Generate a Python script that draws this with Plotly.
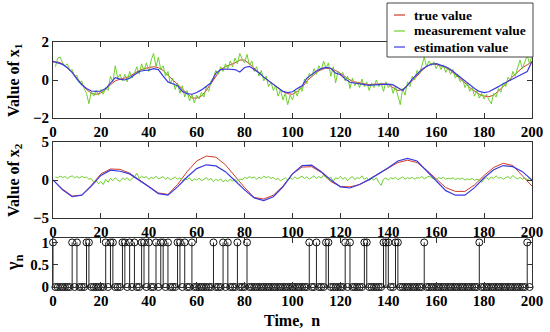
import plotly.graph_objects as go

# ---------------- data ----------------
# x1 true / estimation sampled every 2 steps (n = 0,2,...,200)
n_x1 = list(range(0, 201, 2))
x1_true = [0.95, 0.95, 0.85, 0.65, 0.4, 0.1, -0.2, -0.5, -0.7, -0.75,
           -0.68, -0.5, -0.25, -0.05, 0.05, 0.1, 0.2, 0.35, 0.5, 0.6,
           0.65, 0.7, 0.65, 0.5, 0.25, 0.0, -0.25, -0.5, -0.75, -0.95,
           -0.95, -0.85, -0.55, -0.2, 0.2, 0.55, 0.7, 0.8, 0.9, 1.05,
           1.05, 0.85, 0.6, 0.4, 0.15, -0.05, -0.25, -0.45, -0.6, -0.72,
           -0.75, -0.6, -0.4, -0.05, 0.2, 0.4, 0.55, 0.62, 0.6, 0.5,
           0.35, 0.15, 0.0, -0.1, -0.15, -0.2, -0.25, -0.22, -0.2, -0.2,
           -0.25, -0.4, -0.55, -0.5, -0.3, -0.05, 0.2, 0.5, 0.7, 0.85,
           0.82, 0.75, 0.65, 0.5, 0.3, 0.1, -0.15, -0.4, -0.6, -0.75,
           -0.85, -0.88, -0.8, -0.6, -0.35, -0.05, 0.2, 0.45, 0.65, 0.8,
           0.95]
x1_est = [0.98, 0.9, 0.82, 0.65, 0.4, 0.05, -0.25, -0.45, -0.58, -0.6,
          -0.58, -0.45, -0.15, 0.12, 0.05, 0.0, 0.1, 0.3, 0.45, 0.5,
          0.52, 0.6, 0.55, 0.2, -0.1, -0.2, -0.3, -0.6, -0.72, -0.75,
          -0.66, -0.52, -0.35, -0.15, 0.35, 0.55, 0.58, 0.58, 0.55, 0.42,
          0.66, 0.72, 0.55, 0.38, 0.15, -0.05, -0.25, -0.45, -0.6, -0.66,
          -0.62, -0.45, -0.3, 0.1, 0.3, 0.47, 0.6, 0.66, 0.62, 0.36,
          0.29, 0.05, -0.12, -0.16, -0.2, -0.25, -0.28, -0.26, -0.24, -0.22,
          -0.22, -0.26, -0.4, -0.55, -0.28, 0.05, 0.3, 0.55, 0.72, 0.83,
          0.86, 0.8, 0.7, 0.55, 0.35, 0.12, -0.1, -0.3, -0.45, -0.6,
          -0.66, -0.62, -0.5, -0.35, -0.2, -0.07, 0.05, 0.15, 0.3, 0.45,
          0.98]
# x1 measurement, every step (n = 1..200)
x1_meas = [0.7, 1.15, 1.2, 0.9, 0.75, 0.85, 0.5, 0.55, 0.2, 0.25,
           -0.15, -0.05, -0.45, -0.7, -1.25, -0.6, -0.85, -0.55, -0.8, -0.5,
           -0.75, -0.4, -0.55, 0.2, -0.1, 0.75, 0.1, 0.3, -0.05, 0.3,
           -0.1, 0.45, 0.1, 0.35, 0.7, 0.3, 0.85, 0.5, 0.9, 0.45,
           1.05, 1.4, 0.7, 1.2, 0.55, 0.75, 0.2, 0.45, -0.2, 0.1,
           -0.5, -0.15, -0.7, -0.3, -0.9, -0.55, -1.1, -0.75, -1.2, -0.8,
           -1.0, -0.65, -0.9, -0.35, -0.6, -0.05, 0.15, 0.5, 0.3, 0.7,
           0.45, 0.85, 0.6, 1.0, 0.7, 1.15, 0.85, 1.4, 1.1, 0.9,
           1.35, 0.8, 1.0, 0.45, 0.7, 0.2, 0.5, -0.05, 0.2, -0.35,
           -0.1, -0.55, -0.3, -0.85, -0.5, -1.05, -0.7, -1.3, -0.8, -1.05,
           -0.55, -0.85, -0.35, -0.6, 0.05, -0.2, 0.35, 0.15, 0.6, 0.3,
           0.75, 0.5, 1.0, 0.6, 0.9, 0.2, 0.7, -0.15, 0.45, 0.25,
           0.4, -0.05, 0.2, -0.45, 0.1, -0.3, -0.1, -0.4, 0.05, -0.35,
           -0.1, -0.55, -0.15, -0.4, 0.0, -0.35, -0.15, -0.6, -0.1, -0.4,
           -0.2, -0.7, -0.35, -0.9, -1.3, -0.45, -0.8, -0.1, -0.35, 0.2,
           0.0, 0.5, 0.3, 0.75, 1.2, 0.7, 1.0, 0.75, 0.95, 0.6,
           0.85, 0.55, 0.8, 0.4, 0.65, 0.3, 0.55, 0.1, 0.3, -0.1,
           0.05, -0.4, -0.15, -0.6, -0.4, -0.85, -0.55, -0.95, -0.7, -1.0,
           -0.75, -1.05, -1.25, -0.7, -0.9, -0.45, -0.65, -0.15, -0.35, 0.15,
           -0.05, 0.45, 0.2, 0.65, 1.05, 0.6, 0.9, 1.3, 0.85, 1.3]

# x2 true / estimation sampled every 4 steps (n = 0,4,...,200)
n_x2 = list(range(0, 201, 4))
x2_true = [0.0, -1.2, -2.1, -2.0, -0.7, 0.8, 1.45, 1.4, 0.9, 0.0,
           -0.9, -1.7, -1.9, -0.6, 1.1, 2.5, 3.15, 3.0, 2.0, 0.5,
           -1.0, -2.3, -2.5, -2.0, -0.8, 0.8, 1.7, 1.75, 1.0, -0.2,
           -0.85, -0.9, -0.6, 0.1, 0.8, 1.5, 2.3, 2.6, 2.3, 1.3,
           0.1, -1.0, -1.5, -1.5, -0.65, 0.6, 1.65, 2.2, 1.9, 0.6,
           -0.8]
x2_est = [0.0, -1.3, -2.2, -2.0, -0.8, 0.6, 1.3, 1.15, 0.8, 0.0,
          -0.9, -1.8, -2.0, -0.9, 0.4, 1.5, 2.0, 1.85, 1.1, -0.1,
          -1.3, -2.35, -2.7, -2.2, -0.9, 0.8, 1.9, 1.95, 1.1, 0.0,
          -0.9, -1.05, -0.6, 0.05, 0.8, 1.6, 2.5, 2.85, 2.5, 1.2,
          -0.2, -1.4, -2.0, -2.0, -1.0, 0.3, 1.35, 1.9, 1.75, 1.1,
          0.0]
# x2 measurement, every step (n = 1..200)
x2_meas = [0.4, 0.3, 0.5, 0.35, 0.45, 0.2, 0.4, 0.55, 0.3, 0.45, 0.25, 0.5, 0.3, 0.4, 0.1,
           0.2, -0.3, -0.1, -0.5, -0.2, -0.6, 0.1, -0.3, 0.2, -0.1, 0.3, 0.0, -0.2, 0.25, 0.05,
           0.3, -0.1, 0.2, 0.4, 0.9, 0.2, 0.5, 0.3, 0.45, 0.1, 0.35, 0.2, 0.5, 0.15, 0.3,
           0.45, 0.1, 0.35, 0.0, 0.25, 0.4, 0.1, 0.3, -0.1, 0.2, 0.05, 0.3, -0.15, 0.15, 0.0,
           0.25, -0.1, 0.1, 0.3, 0.0, 0.2, -0.2, 0.1, -0.1, 0.15, -0.25, 0.0, -0.2, 0.1, -0.15,
           0.05, -0.2, 0.15, 0.0, 0.35, 0.2, 0.45, 0.25, 0.4, 0.1, 0.35, 0.2, 0.5, 0.3, 0.45,
           0.2, 0.35, 0.05, 0.2, -0.1, 0.15, 0.3, 0.0, 0.25, 0.1, 0.4, 0.15, 0.35, 0.5, 0.2,
           0.4, 0.1, 0.3, 0.55, 0.2, 0.45, 0.25, 0.65, 0.3, 0.1, 0.4, -0.2, 0.3, 0.15, 0.5,
           0.1, 0.35, -0.1, 0.25, 0.45, 0.05, 0.3, 0.2, 0.55, 0.1, 0.3, -0.05, 0.2, 0.0, 0.3,
           -0.3, -0.7, 0.1, 0.25, 0.0, 0.3, 0.15, 0.35, 0.05, 0.25, 0.4, 0.1, 0.3, 0.2, 0.35,
           0.1, 0.3, 0.25, 0.45, 0.15, 0.35, 0.5, 0.3, 0.2, 0.1, 0.3, 0.2, 0.35, 0.1, 0.25,
           0.15, 0.3, 0.05, 0.2, 0.1, 0.25, 0.0, 0.15, 0.05, 0.2, -0.05, 0.1, 0.0, -0.3, 0.15,
           0.3, 0.05, 0.4, 0.2, 0.55, 0.25, 0.35, 0.1, 0.3, 0.45, 0.2, 0.6, 0.3, 0.15, 0.35,
           0.1, 0.3, 0.05, 0.2, -0.1]

# gamma_n (n = 0..199): indices where gamma = 1
gamma_ones = [0, 8, 10, 14, 15, 22, 24, 25, 29, 30, 32, 34, 37, 38, 40, 43, 45,
              46, 48, 52, 53, 55, 58, 67, 71, 73, 77, 81, 107, 110, 114, 115,
              122, 124, 130, 131, 138, 139, 140, 143, 144, 155, 178, 198]
n_gamma = list(range(0, 200))
gamma = [1 if k in gamma_ones else 0 for k in n_gamma]

x_ticks = list(range(0, 201, 20))
y1_ticks = [-2, 0, 2]
y2_ticks = [-5, 0, 5]
y3_ticks = [0, 0.5, 1]

legend_names = ["true value", "measurement value", "estimation value"]

# ---------------- style ----------------
FONT = "Liberation Serif, Times New Roman, serif"
RED = "#d03a2a"
GREEN = "#6fcf2f"
BLUE = "#3a3ae0"
AX = "#333333"
COLORS = [RED, GREEN, BLUE]

W, H = 550, 332
ML, MR, MT, MB = 53, 18, 42, 45
PW, PH = W - ML - MR, H - MT - MB


def py(v):  # pixel y -> paper
    return (H - MB - v) / PH


def px(v):  # pixel x -> paper
    return (v - ML) / PW


fig = go.Figure()

fig.add_trace(go.Scatter(x=n_x1, y=x1_true, mode="lines", name=legend_names[0],
                         line=dict(color=RED, width=1), xaxis="x", yaxis="y"))
fig.add_trace(go.Scatter(x=list(range(1, len(x1_meas) + 1)), y=x1_meas, mode="lines",
                         name=legend_names[1], line=dict(color=GREEN, width=1),
                         xaxis="x", yaxis="y"))
fig.add_trace(go.Scatter(x=n_x1, y=x1_est, mode="lines", name=legend_names[2],
                         line=dict(color=BLUE, width=1.2), xaxis="x", yaxis="y"))

fig.add_trace(go.Scatter(x=n_x2, y=x2_true, mode="lines",
                         line=dict(color=RED, width=1), xaxis="x2", yaxis="y2"))
fig.add_trace(go.Scatter(x=list(range(1, len(x2_meas) + 1)), y=x2_meas, mode="lines",
                         line=dict(color=GREEN, width=1), xaxis="x2", yaxis="y2"))
fig.add_trace(go.Scatter(x=n_x2, y=x2_est, mode="lines",
                         line=dict(color=BLUE, width=1.2), xaxis="x2", yaxis="y2"))

fig.add_trace(go.Scatter(x=n_gamma, y=gamma, mode="markers",
                         marker=dict(symbol="circle-open", size=7, color="#111111",
                                     line=dict(width=1, color="#111111")),
                         error_y=dict(type="data", symmetric=False,
                                      array=[0] * len(gamma), arrayminus=gamma,
                                      width=0, thickness=1, color="#222222"),
                         cliponaxis=False, xaxis="x3", yaxis="y3"))

tickfont = dict(family=FONT, size=15, color="black", weight="bold")
common_x = dict(range=[0, 200], tickvals=x_ticks, ticks="inside", ticklen=5,
                tickcolor=AX, showline=True, linecolor=AX, linewidth=1,
                mirror="ticks", showgrid=False, zeroline=False, tickfont=tickfont)
common_y = dict(ticks="inside", ticklen=5, tickcolor=AX, showline=True,
                linecolor=AX, linewidth=1, mirror="ticks", showgrid=False,
                zeroline=False, tickfont=tickfont)

fig.update_layout(
    width=W, height=H,
    margin=dict(l=ML, r=MR, t=MT, b=MB, autoexpand=False),
    paper_bgcolor="white", plot_bgcolor="white",
    showlegend=False,
    xaxis=dict(domain=[0, 1], anchor="y", **common_x),
    yaxis=dict(domain=[py(118), 1], range=[-2, 2], tickvals=y1_ticks, anchor="x", **common_y),
    xaxis2=dict(domain=[0, 1], anchor="y2", **common_x),
    yaxis2=dict(domain=[py(218), py(142)], range=[-5, 5], tickvals=y2_ticks, anchor="x2", **common_y),
    xaxis3=dict(domain=[0, 1], anchor="y3", **common_x),
    yaxis3=dict(domain=[0, py(238)], range=[0, 1.1], tickvals=y3_ticks,
                ticktext=["0", "0.5", "1"], anchor="x3", **common_y),
)

# legend box (drawn in paper coordinates, like a MATLAB legend)
fig.add_shape(type="rect", xref="paper", yref="paper",
              x0=px(387), x1=px(533), y0=py(57), y1=py(3),
              fillcolor="white", line=dict(color="#444444", width=1), layer="above")
legend_font = dict(family=FONT, size=13.5, color="black", weight="bold")
for i, (name, col) in enumerate(zip(legend_names, COLORS)):
    yc = 15 + 16 * i
    fig.add_shape(type="line", xref="paper", yref="paper",
                  x0=px(394), x1=px(405), y0=py(yc), y1=py(yc),
                  line=dict(color=col, width=1.2), layer="above")
    fig.add_annotation(text=name, x=px(412), y=py(yc), xref="paper", yref="paper",
                       xanchor="left", yanchor="middle", showarrow=False,
                       font=legend_font)

title_font = dict(family=FONT, size=16, color="black", weight="bold")
fig.add_annotation(text="Value of x<sub>1</sub>", x=px(14), y=py(80), xref="paper",
                   yref="paper", textangle=-90, showarrow=False, font=title_font,
                   xanchor="center", yanchor="middle")
fig.add_annotation(text="Value of x<sub>2</sub>", x=px(14), y=py(180), xref="paper",
                   yref="paper", textangle=-90, showarrow=False, font=title_font,
                   xanchor="center", yanchor="middle")
fig.add_annotation(text="γ<sub>n</sub>", x=px(14), y=py(263), xref="paper",
                   yref="paper", textangle=-90, showarrow=False,
                   font=dict(family=FONT, size=18, color="black", weight="bold"),
                   xanchor="center", yanchor="middle")
fig.add_annotation(text="Time,  n", x=px(292), y=py(320), xref="paper",
                   yref="paper", showarrow=False, font=title_font,
                   xanchor="center", yanchor="middle")

fig.write_html("out.html",
               config={"displayModeBar": False, "staticPlot": True},
               post_script="document.body.style.margin='0';"
                           "document.body.style.overflow='hidden';")
